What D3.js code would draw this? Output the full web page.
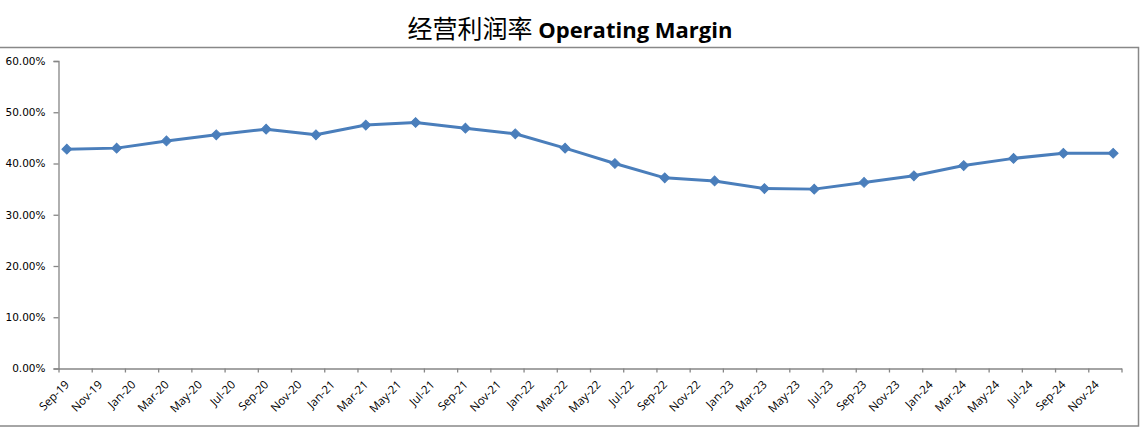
<!DOCTYPE html>
<html>
<head>
<meta charset="utf-8">
<script src="https://cdn.jsdelivr.net/npm/d3@7"></script>
<style>
  body { margin: 0; background: #fff; }
  svg { display: block; }
</style>
</head>
<body>
<svg id="chart" width="1147" height="433"></svg>
<script>
// quarterly operating margin, Sep-19 .. Dec-24
const periods = ["2019-09", "2019-12", "2020-03", "2020-06", "2020-09", "2020-12",
  "2021-03", "2021-06", "2021-09", "2021-12", "2022-03", "2022-06", "2022-09",
  "2022-12", "2023-03", "2023-06", "2023-09", "2023-12", "2024-03", "2024-06",
  "2024-09", "2024-12"];
const margin_values = [42.8, 43.0, 44.4, 45.6, 46.7, 45.6, 47.5, 48.0, 46.9, 45.8,
  43.0, 40.0, 37.2, 36.6, 35.1, 35.0, 36.3, 37.6, 39.6, 41.0, 42.0, 42.0];
const y_ticks = [0, 10, 20, 30, 40, 50, 60];
const month_names = ["Jan", "Feb", "Mar", "Apr", "May", "Jun", "Jul", "Aug", "Sep", "Oct", "Nov", "Dec"];

const start_year = 2019, start_month = 9;
const month_count = 64; // Sep-19 .. Dec-24

const svg = d3.select('#chart');
const plot = { left: 58.5, right: 1121.5, top: 61, bottom: 368.5 };

// month index (0 = Sep-19)
function month_index(p) {
  const parts = p.split('-').map(Number);
  return (parts[0] - start_year) * 12 + (parts[1] - start_month);
}
function month_label(i) {
  const m = (start_month - 1 + i) % 12;
  const yr = start_year + Math.floor((start_month - 1 + i) / 12);
  return month_names[m] + '-' + String(yr % 100).padStart(2, '0');
}

const x = d3.scaleLinear().domain([0, month_count]).range([plot.left, plot.right]);
const y = d3.scaleLinear().domain([0, 60]).range([plot.bottom, plot.top]);

// outer chart border
svg.append('rect')
  .attr('x', -2).attr('y', 47.5)
  .attr('width', 1140.5).attr('height', 378.5)
  .attr('fill', 'none')
  .attr('stroke', '#888888')
  .attr('stroke-width', 1.5);

// title
const title = svg.append('text')
  .attr('x', 570).attr('y', 38)
  .attr('text-anchor', 'middle')
  .attr('fill', '#000');
title.append('tspan')
  .attr('font-family', '"Noto Sans CJK SC", sans-serif')
  .attr('font-size', 25)
  .attr('font-weight', 400)
  .text('经营利润率 ');
title.append('tspan')
  .attr('font-family', '"Open Sans", sans-serif')
  .attr('font-size', 22)
  .attr('font-weight', 'bold')
  .text('Operating Margin');

// y axis
const y_axis = svg.append('g')
  .attr('class', 'y_axis')
  .attr('transform', 'translate(' + plot.left + ',0)')
  .call(d3.axisLeft(y).tickValues(y_ticks).tickSize(5).tickPadding(8)
    .tickFormat(d => d.toFixed(2) + '%'));
y_axis.selectAll('text')
  .attr('font-family', '"DejaVu Sans", sans-serif')
  .attr('font-size', 10.5)
  .attr('fill', '#000');

// x axis, tick every 2 months
const x_ticks = d3.range(0, month_count + 1, 2);
const x_axis = svg.append('g')
  .attr('class', 'x_axis')
  .attr('transform', 'translate(0,' + plot.bottom + ')')
  .call(d3.axisBottom(x).tickValues(x_ticks).tickSize(4).tickSizeOuter(0)
    .tickFormat(i => i < month_count ? month_label(i) : ''));
x_axis.selectAll('text')
  .attr('font-family', '"Open Sans", sans-serif')
  .attr('font-size', 11.5)
  .attr('fill', '#000')
  .attr('text-anchor', 'end')
  .attr('dx', 0)
  .attr('dy', 0)
  .attr('transform', 'translate(6,12) rotate(-45)');

svg.selectAll('.domain, .tick line')
  .attr('stroke', '#868686')
  .attr('stroke-width', 1.3);

// series
const points = periods.map((p, i) => ({ m: month_index(p) + 0.5, v: margin_values[i] }));

svg.append('path')
  .datum(points)
  .attr('fill', 'none')
  .attr('stroke', '#4a7ebb')
  .attr('stroke-width', 3)
  .attr('stroke-linejoin', 'round')
  .attr('d', d3.line().x(d => x(d.m)).y(d => y(d.v)));

svg.append('g')
  .selectAll('path')
  .data(points)
  .join('path')
  .attr('transform', d => 'translate(' + x(d.m) + ',' + y(d.v) + ') rotate(45)')
  .attr('d', d3.symbol().type(d3.symbolSquare).size(48))
  .attr('fill', '#4a7ebb')
  .attr('stroke', '#4a7ebb')
  .attr('stroke-width', 1);
</script>
</body>
</html>
